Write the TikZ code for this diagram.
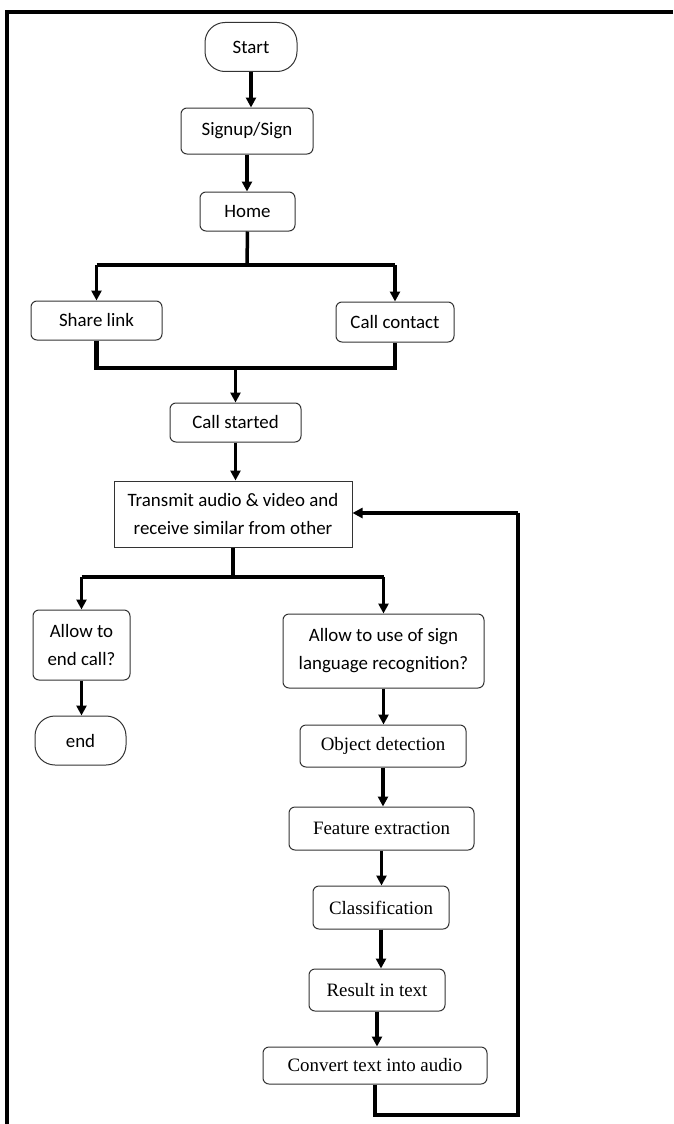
\documentclass[tikz,border=0pt]{standalone}
\usepackage{fontspec}
\setmainfont{Carlito}
\newfontfamily\tmsfont{Liberation Serif}
\usetikzlibrary{arrows.meta,calc}
\begin{document}
\begin{tikzpicture}[x=1pt,y=-1pt,
  box/.style={draw=black!80,line width=1pt,rounded corners=6pt,inner sep=0pt,align=center,
    font=\fontsize{18.9}{28}\selectfont},
  sqbox/.style={box,rounded corners=0pt},
  term/.style={box,rounded corners=20pt},
  tbox/.style={box,font=\fontsize{18.9}{28}\selectfont\tmsfont},
  arr/.style={line width=3.5pt,-{Triangle[length=10pt,width=10pt]}},
  bar/.style={line width=4.5pt},
  fb/.style={line width=3.5pt}]
\useasboundingbox (0,0) rectangle (673,1124);
% frame
\draw[line width=3.5pt] (673,12) -- (7,12) -- (7,1124);
% nodes
\node[term,minimum width=92pt,minimum height=49pt] (start) at (251,47) {Start};
\node[box,minimum width=132pt,minimum height=46pt] (signup) at (247,131) {Signup/Sign};
\node[box,minimum width=95pt,minimum height=39pt] (home) at (247.5,211.5) {Home};
\node[box,minimum width=131pt,minimum height=39pt] (share) at (96.5,320.5) {Share link};
\node[box,minimum width=118pt,minimum height=40pt] (callc) at (395,322) {Call contact};
\node[box,minimum width=131pt,minimum height=39pt] (callst) at (235.5,422.5) {Call started};
\node[sqbox,minimum width=238pt,minimum height=66pt] (trans) at (233,514) {Transmit audio \& video and\\receive similar from other};
\node[box,minimum width=97pt,minimum height=70pt] (endq) at (81.5,645) {Allow to\\end call?};
\node[term,minimum width=91pt,minimum height=49pt] (endn) at (80.5,740.5) {end};
\node[box,minimum width=201pt,minimum height=74pt] (signq) at (383.5,651) {Allow to use of sign\\language recognition?};
\node[tbox,minimum width=166pt,minimum height=42pt] (obj) at (383,746) {Object detection};
\node[tbox,minimum width=185pt,minimum height=43pt] (feat) at (381.5,828.5) {Feature extraction};
\node[tbox,minimum width=136pt,minimum height=43pt] (cls) at (381,907.5) {Classification};
\node[tbox,minimum width=136pt,minimum height=42pt] (res) at (377,990) {Result in text};
\node[tbox,minimum width=224pt,minimum height=37pt] (conv) at (375,1065.5) {Convert text into audio};
% helper coordinates
\coordinate (split1) at (247,265);
\coordinate (merge) at (235.5,368);
\coordinate (split2) at (233,577);
\coordinate (fbA) at (518,1115);
\coordinate (fbB) at (518,513);
% connectors
\draw[arr] (start.south) -- (start.south |- signup.north);
\draw[arr] (signup.south) -- (signup.south |- home.north);
\draw[line width=3.5pt] (home.south) -- (split1);
\draw[bar] (share.north |- split1) -- (callc.north |- split1);
\draw[arr] (share.north |- split1) -- (share.north);
\draw[arr] (callc.north |- split1) -- (callc.north);
\draw[bar] (share.south) |- (merge) -| (callc.south);
\draw[arr] (merge) -- (callst.north);
\draw[arr] (callst.south) -- (callst.south |- trans.north);
\draw[line width=3.5pt] (trans.south) -- (split2);
\draw[bar] (endq.north |- split2) -- (signq.north |- split2);
\draw[arr] (endq.north |- split2) -- (endq.north);
\draw[arr] (signq.north |- split2) -- (signq.north);
\draw[arr] (endq.south) -- (endq.south |- endn.north);
\draw[arr] (signq.south) -- (signq.south |- obj.north);
\draw[arr] (obj.south) -- (obj.south |- feat.north);
\draw[arr] (feat.south) -- (feat.south |- cls.north);
\draw[arr] (cls.south) -- (cls.south |- res.north);
\draw[arr] (res.south) -- (res.south |- conv.north);
\draw[fb] (conv.south) |- (fbA) -- (fbB);
\draw[arr] (fbB) -- (trans.east |- fbB);
\end{tikzpicture}
\end{document}
